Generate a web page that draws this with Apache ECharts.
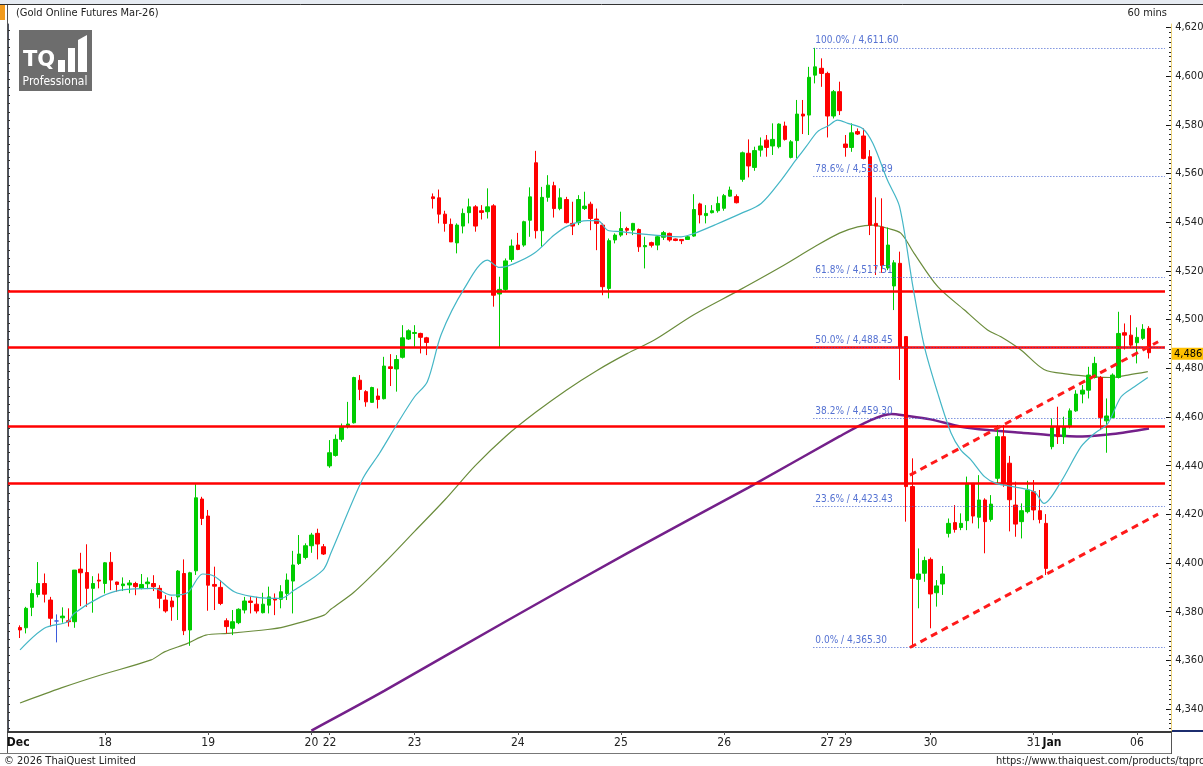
<!DOCTYPE html>
<html>
<head>
<meta charset="utf-8">
<title>Gold Online Futures Mar-26</title>
<script src="https://cdn.jsdelivr.net/npm/echarts@6.0.0/dist/echarts.min.js"></script>
<style>
  html, body { margin: 0; padding: 0; background: #fff; }
  #chart { width: 1203px; height: 766px; }
</style>
</head>
<body>
<div id="chart"></div>
<script>
// hourly candles, [open, high, low, close]
const candles = [
  // Dec 17
  [4373.5,4374.4,4369.2,4372.5],[4373.4,4382.0,4371.1,4381.4],[4381.8,4389.2,4378.2,4387.5],[4387.1,4400.4,4385.9,4391.6],
  [4391.6,4395.7,4383.8,4387.2],[4384.8,4386.1,4373.9,4377.3],[4376.2,4378.9,4367.4,4376.2],[4377.5,4381.8,4375.5,4378.2],
  [4376.3,4381.4,4373.9,4375.9],[4375.9,4397.1,4373.4,4397.1],[4397.5,4404.2,4382.3,4396.0],[4396.1,4407.7,4382.0,4389.6],
  [4389.6,4394.6,4379.6,4391.6],[4393.0,4395.7,4389.6,4392.6],
  // Dec 18
  [4391.6,4400.4,4387.5,4400.1],[4400.3,4404.5,4388.9,4393.0],[4392.2,4392.3,4388.2,4391.2],[4390.7,4394.1,4388.5,4391.4],
  [4391.0,4393.0,4387.6,4391.8],[4391.6,4392.3,4386.8,4390.3],[4389.6,4395.5,4389.2,4391.2],[4391.5,4394.1,4389.3,4392.2],
  [4391.6,4395.0,4388.5,4390.3],[4389.6,4390.9,4381.4,4385.5],[4384.8,4386.8,4379.6,4380.3],[4384.4,4386.1,4376.3,4382.0],
  [4386.1,4397.1,4376.6,4396.7],[4395.7,4401.5,4370.4,4372.2],[4372.5,4396.4,4366.0,4396.0],[4396.8,4432.4,4395.1,4426.8],
  [4426.3,4427.2,4415.6,4418.3],
  // Dec 19
  [4419.3,4421.8,4380.4,4390.9],[4391.2,4398.5,4380.7,4390.5],[4390.0,4393.0,4382.7,4383.4],[4376.3,4377.3,4371.1,4373.9],
  [4373.2,4380.7,4370.4,4375.9],[4375.5,4381.4,4374.9,4381.0],[4380.7,4386.1,4379.3,4384.4],[4384.4,4386.4,4379.3,4383.8],
  [4383.1,4386.1,4379.3,4380.3],[4379.6,4387.8,4379.3,4383.1],[4382.7,4390.3,4379.3,4386.1],[4385.5,4387.5,4378.6,4384.8],
  [4385.1,4390.9,4381.4,4388.2],[4387.5,4395.7,4384.8,4393.0],[4392.6,4405.0,4379.3,4399.2],[4399.8,4411.5,4399.2,4403.7],
  [4402.3,4408.1,4401.5,4407.1],
  // Dec 20
  [4407.1,4412.4,4404.2,4411.5],[4412.2,4414.1,4401.5,4407.8],[4406.7,4407.8,4403.3,4403.7],
  // Dec 22
  [4439.9,4450.5,4439.1,4445.3],[4444.2,4452.8,4443.7,4450.8],[4450.8,4457.3,4449.8,4456.0],[4456.3,4466.2,4455.3,4457.1],
  [4457.6,4476.5,4457.3,4476.2],[4475.1,4477.2,4466.9,4471.3],[4470.4,4471.0,4464.2,4466.2],[4466.0,4472.4,4465.8,4472.1],
  [4468.6,4471.7,4463.5,4467.2],[4467.5,4484.7,4467.2,4480.9],[4480.6,4485.8,4472.7,4479.9],[4479.7,4485.4,4470.4,4483.6],
  [4484.5,4497.7,4484.0,4492.5],[4492.0,4496.0,4491.6,4495.4],
  // Dec 23
  [4494.3,4497.7,4488.8,4494.7],[4494.3,4494.6,4486.1,4492.7],[4492.5,4492.9,4485.4,4490.6],[4550.4,4551.8,4545.6,4549.7],
  [4550.0,4553.4,4539.5,4543.3],[4543.3,4544.7,4536.1,4539.5],[4539.1,4541.5,4531.9,4531.9],[4531.5,4539.5,4527.2,4538.8],
  [4538.4,4545.6,4535.4,4543.6],[4543.9,4549.7,4539.5,4546.3],[4546.3,4547.0,4536.1,4538.4],[4544.7,4547.0,4541.1,4544.0],
  [4544.3,4553.9,4541.5,4546.3],[4546.7,4547.4,4505.3,4510.0],[4510.5,4517.6,4488.7,4512.4],[4512.4,4525.1,4511.4,4524.1],
  [4524.7,4532.9,4523.7,4530.2],
  // Dec 24
  [4530.6,4535.6,4528.5,4528.8],[4530.6,4540.6,4529.9,4540.2],[4540.8,4554.3,4534.0,4550.4],[4564.4,4569.3,4533.3,4536.5],
  [4536.5,4554.5,4529.9,4550.2],[4550.2,4559.3,4548.4,4555.2],[4555.0,4556.6,4541.9,4545.6],[4545.6,4553.9,4544.9,4550.0],
  [4549.3,4550.4,4539.5,4539.8],[4539.5,4548.4,4534.7,4538.4],[4539.8,4551.1,4538.8,4549.3],[4545.6,4552.5,4545.0,4546.6],
  [4547.4,4548.4,4536.7,4541.5],[4541.3,4545.6,4528.5,4539.5],[4538.8,4539.5,4510.0,4513.5],[4512.8,4533.3,4508.7,4532.4],
  [4532.7,4535.4,4531.3,4534.7],
  // Dec 25
  [4534.7,4544.3,4534.0,4537.4],[4537.4,4538.1,4534.7,4536.7],[4536.7,4539.7,4534.7,4539.5],[4537.0,4537.4,4527.8,4529.9],
  [4529.9,4534.0,4521.0,4530.4],[4531.6,4532.0,4529.6,4530.5],[4530.6,4534.7,4528.5,4534.0],[4533.8,4536.4,4532.7,4535.7],
  [4535.4,4535.7,4532.0,4532.7],[4533.1,4533.3,4532.2,4532.5],[4532.9,4532.9,4531.0,4532.4],[4532.9,4534.3,4532.7,4534.0],
  [4534.3,4551.5,4534.0,4545.2],[4547.5,4548.0,4539.5,4543.0],[4542.7,4547.0,4539.5,4543.6],[4543.9,4547.0,4543.6,4544.7],
  [4544.7,4550.5,4543.9,4547.7],
  // Dec 26
  [4545.7,4551.6,4544.7,4550.9],[4550.7,4554.6,4550.5,4553.2],[4550.5,4551.4,4547.7,4548.0],[4557.6,4569.0,4556.6,4568.5],
  [4568.3,4574.0,4558.4,4563.1],[4562.5,4571.0,4561.1,4569.4],[4569.6,4574.8,4566.9,4571.3],[4573.7,4575.8,4566.9,4570.7],
  [4571.3,4580.6,4567.6,4574.0],[4571.0,4580.6,4570.3,4580.3],[4579.5,4581.3,4573.5,4574.0],[4566.6,4573.7,4566.2,4573.0],
  [4573.5,4590.2,4566.2,4584.4],[4584.4,4590.2,4576.2,4583.6],[4584.0,4603.8,4575.8,4599.5],[4600.4,4611.6,4597.0,4603.8],
  [4603.2,4607.3,4595.6,4601.1],
  // Dec 27
  [4601.1,4601.8,4574.8,4583.6],[4583.6,4594.3,4582.6,4593.6],[4593.6,4597.7,4584.0,4585.8],
  // Dec 29
  [4572.1,4575.8,4566.9,4570.7],[4570.7,4580.6,4568.9,4576.7],[4577.2,4578.5,4575.8,4576.2],[4575.4,4578.5,4565.8,4566.2],
  [4566.9,4569.6,4534.7,4538.8],[4539.5,4550.2,4518.3,4538.4],[4538.0,4549.8,4519.2,4522.2],[4521.2,4537.8,4520.3,4530.6],
  [4513.8,4524.4,4503.9,4523.3],[4523.1,4527.9,4475.2,4488.8],[4493.0,4493.0,4417.0,4431.4],[4431.4,4443.0,4365.3,4393.7],
  [4393.3,4406.0,4381.4,4395.5],[4395.8,4402.6,4392.3,4401.0],
  // Dec 30
  [4401.5,4402.3,4373.2,4387.3],[4387.8,4393.0,4382.1,4390.6],[4391.4,4398.8,4386.9,4395.5],[4412.2,4418.3,4410.5,4416.3],
  [4416.6,4423.8,4412.5,4413.8],[4414.6,4420.4,4413.5,4416.3],[4417.4,4435.5,4413.5,4432.7],[4432.7,4432.7,4416.3,4419.3],
  [4418.8,4436.1,4414.2,4425.9],[4425.9,4426.6,4404.0,4417.0],[4417.9,4427.9,4417.0,4424.2],[4434.8,4456.7,4432.7,4451.9],
  [4451.9,4456.7,4431.3,4432.7],[4441.0,4444.0,4413.0,4426.0],[4423.8,4433.4,4410.8,4416.0],[4417.0,4424.5,4410.1,4421.5],
  [4421.1,4433.8,4420.4,4430.0],
  // Dec 31
  [4429.3,4434.1,4417.6,4421.8],[4421.5,4430.0,4416.3,4417.9],[4416.3,4420.1,4395.1,4397.8],
  // Jan
  [4447.8,4459.4,4446.7,4456.0],[4456.0,4464.2,4448.9,4451.9],[4451.9,4460.1,4448.9,4456.0],[4456.3,4463.5,4455.3,4462.5],
  [4462.5,4471.0,4462.1,4469.4],[4469.4,4473.1,4465.6,4471.0],[4471.0,4480.6,4467.6,4477.2],[4476.2,4484.7,4475.8,4482.0],
  [4476.2,4476.8,4454.6,4459.8],[4458.4,4467.6,4445.3,4460.4],[4459.8,4477.9,4459.4,4477.2],[4476.2,4503.2,4475.8,4494.3],
  [4494.6,4498.4,4487.7,4493.6],[4493.6,4501.8,4488.8,4489.5],
  // 06
  [4490.5,4496.8,4482.0,4492.7],[4492.3,4498.1,4491.6,4496.0],[4496.4,4497.3,4484.0,4486.4]
];

// x axis day labels and the candle index where each day starts
const dayLabels = ['Dec', '18', '19', '20', '22', '23', '24', '25', '26', '27', '29', '30', '31', 'Jan', '06'];
const dayStart  = [-0.3, 14, 31, 48, 51, 65, 82, 99, 116, 133, 136, 150, 167, 170, 184];
const boldLabels = ['Dec', 'Jan'];

// price axis labels
const priceTicks = [4340, 4360, 4380, 4400, 4420, 4440, 4460, 4480, 4500, 4520, 4540, 4560, 4580, 4600, 4620];
const lastPrice = 4486.0;

// moving averages, [candle index, price]
const fastMA = [
  [0,4364.3],[4,4373.2],[7.9,4375.9],[8.9,4379.3],[13.3,4386.1],[16.6,4388.9],[22.1,4389.6],[24.9,4386.8],
  [27.6,4387.8],[30.1,4395.5],[32,4394.6],[35.3,4388.2],[38.6,4386.1],[40.8,4385.6],[43,4385.5],[45.2,4388.9],
  [49.9,4397.1],[51.2,4404.0],[56.5,4434.8],[59.2,4445.0],[62.2,4457.4],[65,4468.3],[67.1,4474.5],[69.4,4494.0],
  [73.2,4512.8],[77,4524.4],[79,4521.4],[81.4,4523.0],[84.7,4527.2],[88,4534.7],[90.2,4538.4],[93.5,4540.6],
  [95.2,4540.6],[96.8,4536.7],[99,4536.1],[101.2,4535.4],[104.5,4534.7],[108.9,4534.0],[111.1,4535.4],[114.4,4538.8],
  [118.8,4543.6],[122.1,4547.7],[125.4,4557.3],[127.8,4565.5],[129.5,4571.0],[131.4,4577.2],[133.1,4579.5],[134.7,4581.9],
  [136.4,4580.6],[138.8,4578.5],[140.5,4572.4],[142.9,4557.3],[144.9,4546.4],[147.1,4513.5],[149,4488.8],[151.2,4469.7],
  [153.4,4453.3],[155,4446.4],[156.7,4442.3],[158.9,4435.5],[160.8,4432.7],[163.8,4431.3],[167.1,4429.3],[168.7,4424.5],
  [171.5,4433.4],[174.8,4447.8],[177,4453.2],[179.2,4457.3],[181.4,4468.3],[183.6,4472.4],[185.8,4476.2]
];
const slowMA = [
  [0,4342.5],[6.8,4348.7],[13.3,4354.0],[21.6,4360.2],[23.8,4363.5],[27.6,4367.0],[30.6,4370.4],[34.2,4371.1],
  [40.8,4372.7],[43.5,4373.8],[50.1,4378.6],[51.2,4381.0],[55,4388],[60,4400],[65,4413],[70,4426],[75,4440],
  [80,4452],[85,4462],[90,4471],[95,4479],[100,4486],[104.5,4491.6],[111,4502],[118.5,4512.1],[125.4,4521.7],
  [130.9,4529.9],[135,4535.5],[138,4538.1],[140.5,4538.8],[142.9,4537.5],[145.1,4535.5],[147.3,4527.2],[151.2,4513.5],
  [155.6,4503.9],[159.4,4495.7],[161.6,4492.9],[164.9,4487.5],[168.7,4479.5],[172.6,4477.6],[177,4476.5],[179.7,4476.2],
  [182.5,4477.2],[185.8,4478.6]
];
const longMA = [
  [48,4331.2],[60,4347.5],[80,4376],[100,4404],[120,4431],[135,4452],[140,4458.5],[143.5,4461.2],[146,4460.5],
  [150,4459],[155,4456],[160,4454.5],[165,4453.5],[170,4452.5],[175,4452],[180,4453],[186,4455.3]
];

// horizontal support / resistance lines
const levels = [4511.7, 4488.5, 4456.3, 4432.9];

// fibonacci retracement from the 4,365.30 low to the 4,611.60 high
const fibPct = ['100.0%', '78.6%', '61.8%', '50.0%', '38.2%', '23.6%', '0.0%'];
const fibPrice = [4611.60, 4558.89, 4517.51, 4488.45, 4459.30, 4423.43, 4365.30];
const fibStart = 130.7;

// rising channel, [candle index, price] at both ends
const channelUpper = [[146.6, 4436.1], [187.5, 4490.9]];
const channelLower = [[146.6, 4365.3], [187.5, 4420.1]];

const X_MIN = -1.98, X_MAX = 189.62, LINE_END = 188.63;
const Y_MIN = 4330.6, Y_MAX = 4621.4;
const FONT = '"Liberation Sans Narrow","Arial Narrow","DejaVu Sans Condensed",sans-serif';
const GRID = { left: 8, right: 32, top: 24, bottom: 34, containLabel: false, outerBoundsMode: 'none' };

function fmtPrice(v, d) {
  return v.toLocaleString('en-US', { minimumFractionDigits: d, maximumFractionDigits: d });
}

const minorTicks = [];
for (let v = 4332; v <= 4620; v += 2) minorTicks.push(v);
const leftTicks = [];
for (let v = 4332; v <= 4620; v += 10 / 3) leftTicks.push(v);
const rightLabels = priceTicks.concat([lastPrice]);

const markData = [];
levels.forEach(v => {
  markData.push([
    { coord: [X_MIN, v], lineStyle: { color: '#ff0000', width: 2.5, type: 'solid' }, label: { show: false } },
    { coord: [LINE_END, v] }
  ]);
});
fibPrice.forEach((v, i) => {
  markData.push([
    {
      coord: [fibStart, v],
      lineStyle: { color: '#4060d0', width: 1, type: [1, 2] },
      label: {
        show: true, position: 'insideStartTop', distance: 2,
        formatter: fibPct[i] + ' / ' + fmtPrice(v, 2),
        color: '#5572d2', fontSize: 10, fontFamily: FONT
      }
    },
    { coord: [LINE_END, v] }
  ]);
});

const chart = echarts.init(document.getElementById('chart'), null, { renderer: 'canvas' });

chart.setOption({
  animation: false,
  backgroundColor: '#fff',
  grid: [Object.assign({}, GRID), Object.assign({}, GRID)],
  xAxis: [
    {
      type: 'value', min: X_MIN, max: X_MAX, gridIndex: 0,
      splitLine: { show: false },
      axisLine: { show: true, onZero: false, lineStyle: { color: '#3a3a3a', width: 2 } },
      axisTick: { show: true, customValues: dayStart.slice(1), length: 3, lineStyle: { color: '#555' } },
      axisLabel: {
        customValues: dayStart,
        margin: 5,
        hideOverlap: false,
        color: '#222', fontSize: 12, fontFamily: FONT,
        formatter: v => {
          const i = dayStart.indexOf(v);
          const t = i >= 0 ? dayLabels[i] : '';
          return boldLabels.includes(t) ? '{b|' + t + '}' : t;
        },
        rich: { b: { fontWeight: 'bold', fontSize: 12, fontFamily: FONT, color: '#111' } }
      }
    },
    { type: 'value', min: X_MIN, max: X_MAX, gridIndex: 1, show: false }
  ],
  yAxis: [
    {
      type: 'value', gridIndex: 0, position: 'right', min: Y_MIN, max: Y_MAX,
      splitLine: { show: false },
      axisLine: { show: true, onZero: false, lineStyle: { color: '#ecd27a', width: 1 } },
      axisTick: { show: true, inside: true, length: 5, customValues: priceTicks, lineStyle: { color: '#111' } },
      axisLabel: {
        customValues: rightLabels, margin: 1, color: '#222', fontSize: 11, fontFamily: FONT,
        formatter: v => v === lastPrice ? '{p|' + fmtPrice(v, 1) + '}' : ' ' + fmtPrice(v, 1),
        rich: {
          p: { backgroundColor: '#ffc000', color: '#000', fontSize: 11, fontFamily: FONT, padding: [1, 8, 0, 2] }
        }
      }
    },
    {
      type: 'value', gridIndex: 0, position: 'left', min: Y_MIN, max: Y_MAX,
      splitLine: { show: false }, axisLabel: { show: false },
      axisLine: { show: true, onZero: false, lineStyle: { color: '#4a5060', width: 1 } },
      axisTick: { show: true, inside: true, length: 2, customValues: leftTicks, lineStyle: { color: '#333' } }
    },
    {
      type: 'value', gridIndex: 1, position: 'right', min: Y_MIN, max: Y_MAX,
      splitLine: { show: false }, axisLine: { show: false, onZero: false }, axisLabel: { show: false },
      axisTick: { show: true, inside: true, length: 2, customValues: minorTicks, lineStyle: { color: '#222' } }
    }
  ],
  series: [
    {
      type: 'line', name: 'long', data: longMA, showSymbol: false, smooth: 0.3,
      lineStyle: { color: '#74208a', width: 2.5 }, z: 3
    },
    {
      type: 'line', name: 'slow', data: slowMA, showSymbol: false, smooth: 0.3,
      lineStyle: { color: '#6b8c3c', width: 1.2 }, z: 3
    },
    {
      type: 'candlestick', name: 'Gold',
      data: candles.map((c, i) => [i, c[0], c[3], c[2], c[1]]),
      encode: { x: 0, y: [1, 2, 3, 4] },
      barWidth: 4,
      itemStyle: {
        color: '#00cc00', color0: '#ff0000',
        borderColor: '#00cc00', borderColor0: '#ff0000',
        borderColorDoji: '#3b5bdb', borderWidth: 1
      },
      markLine: { silent: true, symbol: ['none', 'none'], data: markData },
      z: 4
    },
    {
      type: 'line', name: 'fast', data: fastMA, showSymbol: false, smooth: 0.3,
      lineStyle: { color: '#44b6c6', width: 1.2 }, z: 5
    },
    {
      type: 'line', name: 'chUp', data: channelUpper, showSymbol: false,
      lineStyle: { color: '#ff1a1a', width: 3, type: [7, 5] }, z: 6
    },
    {
      type: 'line', name: 'chLow', data: channelLower, showSymbol: false,
      lineStyle: { color: '#ff1a1a', width: 3, type: [7, 5] }, z: 6
    }
  ],
  graphic: [
    { type: 'rect', shape: { x: 0, y: 0, width: 1203, height: 4 }, style: { fill: '#e6ebf2' }, silent: true },
    { type: 'line', shape: { x1: 0, y1: 4.5, x2: 1203, y2: 4.5 }, style: { stroke: '#333', lineWidth: 1 }, silent: true },
    { type: 'rect', shape: { x: 0, y: 5, width: 5, height: 15 }, style: { fill: '#f29b1d' }, silent: true },
    { type: 'line', shape: { x1: 7.5, y1: 5, x2: 7.5, y2: 754 }, style: { stroke: '#555', lineWidth: 1 }, silent: true },
    { type: 'text', x: 16, y: 13, style: { text: '(Gold Online Futures Mar-26)', fill: '#222', font: '11px ' + FONT, textVerticalAlign: 'middle' }, silent: true },
    { type: 'text', x: 1167, y: 13, style: { text: '60 mins', fill: '#222', font: '11px ' + FONT, textAlign: 'right', textVerticalAlign: 'middle' }, silent: true },
    // logo
    { type: 'rect', shape: { x: 19, y: 30, width: 73, height: 61 }, style: { fill: '#6d6d6d' }, silent: true },
    { type: 'text', x: 23, y: 61, style: { text: 'TQ', fill: '#fff', font: 'bold 21px "DejaVu Sans",sans-serif', textVerticalAlign: 'middle' }, silent: true },
    { type: 'rect', shape: { x: 58, y: 60, width: 7, height: 12 }, style: { fill: '#fff' }, silent: true },
    { type: 'rect', shape: { x: 68, y: 48, width: 7, height: 24 }, style: { fill: '#fff' }, silent: true },
    { type: 'polygon', shape: { points: [[78, 40], [87, 35], [87, 72], [78, 72]] }, style: { fill: '#fff' }, silent: true },
    { type: 'text', x: 55, y: 82, style: { text: 'Professional', fill: '#fff', font: '12px ' + FONT, textAlign: 'center', textVerticalAlign: 'middle' }, silent: true },
    // axis band and footer
    { type: 'line', shape: { x1: 0, y1: 753.5, x2: 1172, y2: 753.5 }, style: { stroke: '#777', lineWidth: 1 }, silent: true },
    { type: 'line', shape: { x1: 1171.5, y1: 731, x2: 1171.5, y2: 754 }, style: { stroke: '#555', lineWidth: 1 }, silent: true },
    { type: 'line', shape: { x1: 1172, y1: 731, x2: 1203, y2: 731 }, style: { stroke: '#1c2d6e', lineWidth: 2 }, silent: true },
    { type: 'text', x: 4, y: 761, style: { text: '\u00a9 2026 ThaiQuest Limited', fill: '#222', font: '11px ' + FONT, textVerticalAlign: 'middle' }, silent: true },
    { type: 'text', x: 996, y: 761, style: { text: 'https://www.thaiquest.com/products/tqprofessional', fill: '#222', font: '11px ' + FONT, textVerticalAlign: 'middle' }, silent: true }
  ]
});
</script>
</body>
</html>
